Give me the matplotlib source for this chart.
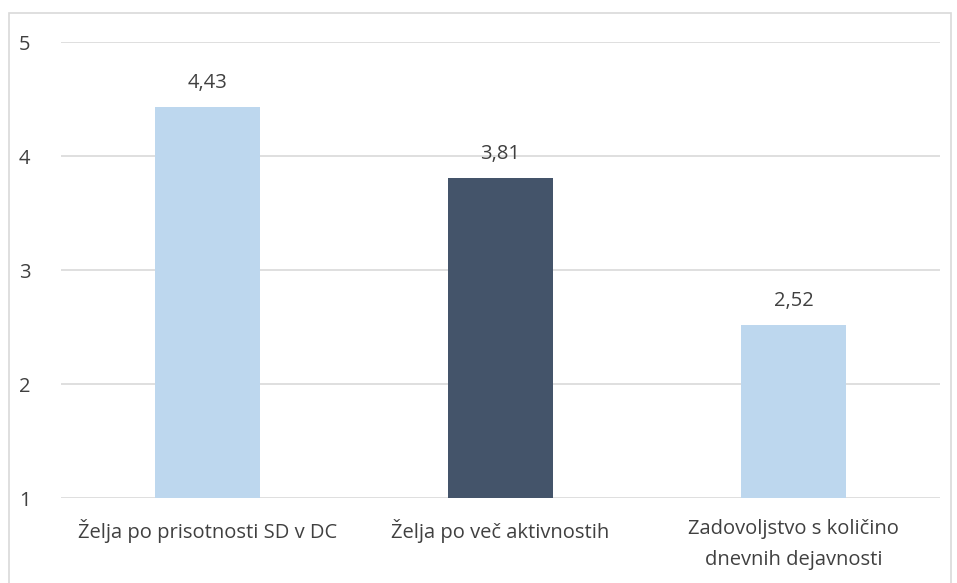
import matplotlib
matplotlib.use("Agg")
import matplotlib.pyplot as plt
from matplotlib.patches import Rectangle

categories = ["Želja po prisotnosti SD v DC", "Želja po več aktivnostih",
              "Zadovoljstvo s količino\ndnevnih dejavnosti"]
values = [4.43, 3.81, 2.52]
value_labels = ["4,43", "3,81", "2,52"]
colors = ["#BDD7EE", "#44546A", "#BDD7EE"]
yticks = [1, 2, 3, 4, 5]

plt.rcParams['font.family'] = ['Open Sans', 'DejaVu Sans']
text_color = "#404040"
fs = 14.5

fig = plt.figure(figsize=(9.57, 5.83), dpi=100)
fig.patches.append(Rectangle((9/957, -0.01), (951-9)/957, 1 - 13/583 + 0.01,
                             transform=fig.transFigure, fill=False,
                             edgecolor="#D9D9D9", linewidth=1.2))
ax = fig.add_axes([61/957, 1 - 498/583, (940-61)/957, (498-42)/583])
x = list(range(len(categories)))
ax.bar(x, [v - 1 for v in values], bottom=1, width=0.355, color=colors, zorder=3)
ax.set_xlim(-0.5, 2.5)
ax.set_ylim(1, 5)
ax.set_yticks(yticks)
ax.set_yticklabels([str(t) for t in yticks])
ax.grid(axis='y', color="#D9D9D9", linewidth=1.2, zorder=0)
for s in ax.spines.values():
    s.set_visible(False)
ax.tick_params(axis='both', length=0, labelsize=fs, colors=text_color)
ax.tick_params(axis='y', pad=22)
ax.set_xticks(x)
ax.set_xticklabels(categories, fontsize=fs, color=text_color, linespacing=1.75)
ax.tick_params(axis='x', pad=15)
for xi, v, lab in zip(x, values, value_labels):
    ax.text(xi, v + 0.12, lab, ha='center', va='bottom', fontsize=fs, color=text_color)
fig.savefig("out.png", dpi=100)
